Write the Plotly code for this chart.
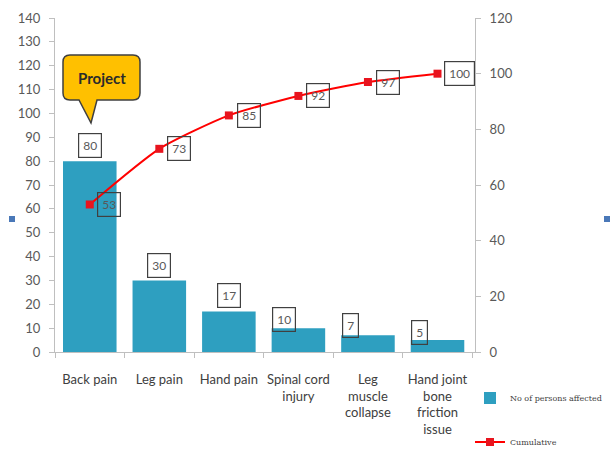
import plotly.graph_objects as go

categories = ["Back pain", "Leg pain", "Hand pain", "Spinal cord<br>injury",
              "Leg<br>muscle<br>collapse", "Hand joint<br>bone<br>friction<br>issue"]
persons_affected = [80, 30, 17, 10, 7, 5]
cumulative = [53, 73, 85, 92, 97, 100]

# label offsets (pixels) for the boxed data labels
bar_label_dx = [0, 0, 0, -14, -17, -18]
bar_label_dy = [16, 15, 16, 9, 10, 8]
cum_label_dx = [19, 20, 20, 20, 20, 22]

W, H = 610, 450
L, R, T, B = 55, 135, 18, 98
PW, PH = W - L - R, H - T - B


def px(x):
    return (x - L) / PW


def py(y):
    return (H - B - y) / PH


font_family = "Lato, 'Open Sans', sans-serif"
grey = "#595959"
axis_col = "#BFBFBF"

fig = go.Figure()
fig.add_trace(go.Bar(
    x=categories, y=persons_affected, name="No of persons affected",
    marker=dict(color="#2E9FC0", line=dict(width=0)),
    legend="legend", showlegend=True,
))
fig.add_trace(go.Scatter(
    x=categories, y=cumulative, name="Cumulative", yaxis="y2",
    mode="lines+markers",
    line=dict(color="#FF0000", width=2, shape="spline", smoothing=0.6),
    marker=dict(symbol="square", size=8, color="#E8141E"),
    legend="legend2", showlegend=True,
))

annotations = []
for i, (c, v) in enumerate(zip(categories, persons_affected)):
    annotations.append(dict(
        x=c, y=v, xref="x", yref="y", text=str(v), showarrow=False,
        xshift=bar_label_dx[i], yshift=bar_label_dy[i],
        font=dict(family=font_family, size=12, color=grey),
        bordercolor="#404040", borderwidth=1.2, borderpad=4,
        bgcolor="rgba(255,255,255,0)",
    ))
for i, (c, v) in enumerate(zip(categories, cumulative)):
    annotations.append(dict(
        x=c, y=v, xref="x", yref="y2", text=str(v), showarrow=False,
        xshift=cum_label_dx[i], yshift=0,
        font=dict(family=font_family, size=12, color=grey),
        bordercolor="#404040", borderwidth=1.2, borderpad=4,
        bgcolor="rgba(255,255,255,0)",
    ))
annotations.append(dict(
    x=px(101.5), y=py(78), xref="paper", yref="paper", text="<b>Project</b>",
    showarrow=False, font=dict(family=font_family, size=15, color="#2b2b2b"),
    xanchor="center", yanchor="middle",
))

# callout shape
pts = [("M", 70, 55), ("L", 133, 55), ("Q", 140, 55, 140, 62), ("L", 140, 93),
       ("Q", 140, 100, 133, 100), ("L", 97, 100), ("L", 91, 123), ("L", 79, 100),
       ("L", 70, 100), ("Q", 63, 100, 63, 93), ("L", 63, 62), ("Q", 63, 55, 70, 55)]
path = ""
for p in pts:
    cmd = p[0]
    coords = p[1:]
    segs = []
    for j in range(0, len(coords), 2):
        segs.append(f"{px(coords[j]):.5f},{py(coords[j+1]):.5f}")
    path += cmd + " " + " ".join(segs) + " "
path += "Z"

shapes = [
    dict(type="path", path=path, xref="paper", yref="paper",
         fillcolor="#FFC000", line=dict(color="#3F3F3F", width=1.5), layer="above"),
    dict(type="rect", xref="paper", yref="paper", x0=px(9), x1=px(15), y0=py(222), y1=py(216),
         fillcolor="#4A78B8", line=dict(width=0)),
    dict(type="rect", xref="paper", yref="paper", x0=px(604), x1=px(610), y0=py(222), y1=py(216),
         fillcolor="#4A78B8", line=dict(width=0)),
]

fig.update_layout(
    width=W, height=H,
    margin=dict(l=L, r=R, t=T, b=B, pad=0, autoexpand=False),
    paper_bgcolor="white", plot_bgcolor="white",
    font=dict(family=font_family, size=12, color=grey),
    bargap=0.23,
    showlegend=True,
    xaxis=dict(
        showline=True, linecolor=axis_col, linewidth=1, automargin=False,
        ticks="outside", tickson="boundaries", ticklen=5, tickcolor=axis_col,
        showgrid=False, tickfont=dict(size=13, color="#404040"),
        ticklabelstandoff=15, tickangle=0,
    ),
    yaxis=dict(
        range=[0, 140], dtick=10, showline=True, linecolor=axis_col, linewidth=1,
        ticks="outside", ticklen=5, tickcolor=axis_col, showgrid=False, zeroline=False,
        tickfont=dict(size=13, color=grey), automargin=False, ticklabelstandoff=6,
    ),
    yaxis2=dict(
        range=[0, 120], dtick=20, overlaying="y", side="right",
        showline=True, linecolor=axis_col, linewidth=1, automargin=False,
        ticks="outside", ticklen=5, tickcolor=axis_col, showgrid=False, zeroline=False,
        tickfont=dict(size=13, color=grey), ticklabelstandoff=6,
    ),
    legend=dict(x=px(470), y=py(398), xanchor="left", yanchor="middle",
                font=dict(family="'DejaVu Serif', serif", size=8, color="#404040"),
                bgcolor="rgba(0,0,0,0)", visible=True),
    legend2=dict(x=px(470), y=py(442), xanchor="left", yanchor="middle",
                 font=dict(family="'DejaVu Serif', serif", size=8, color="#404040"),
                 bgcolor="rgba(0,0,0,0)", visible=True),
    annotations=annotations,
    shapes=shapes,
)

fig.write_html("out.html")
